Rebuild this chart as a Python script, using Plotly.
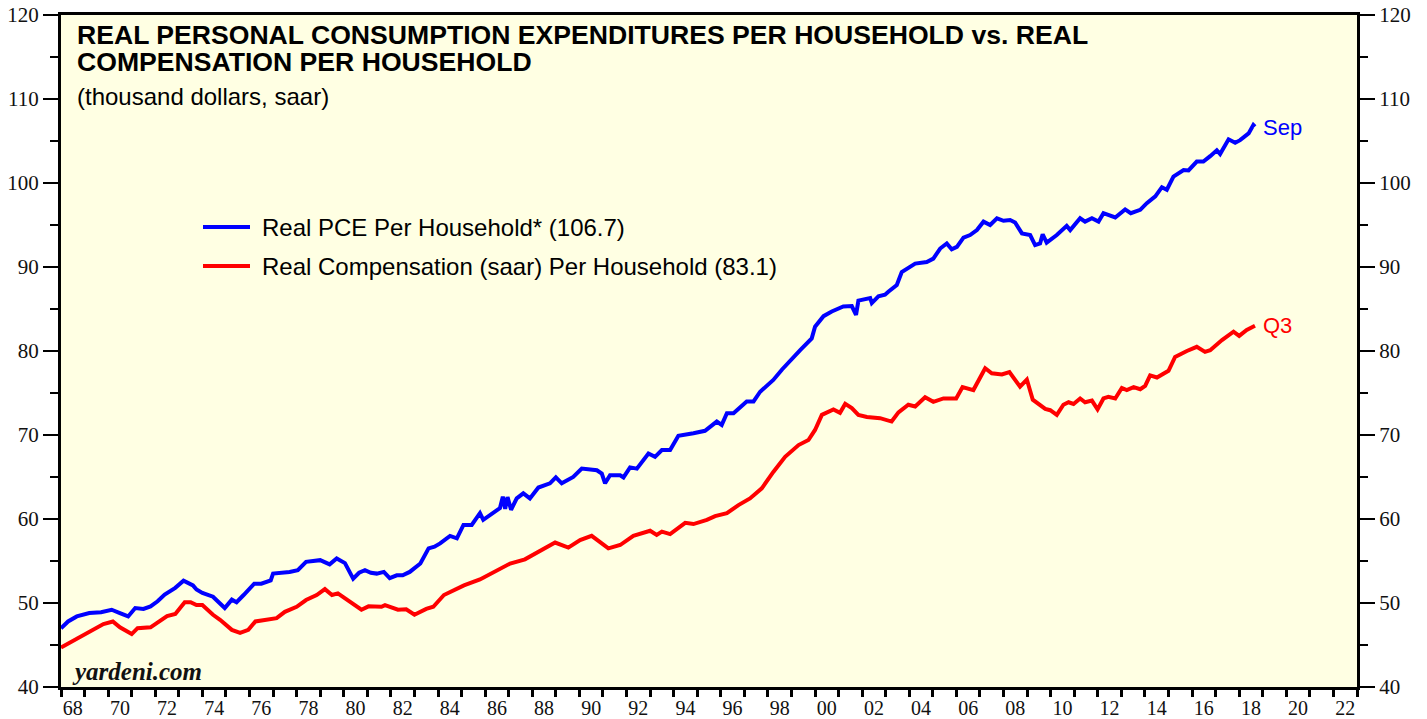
import plotly.graph_objects as go

# ---------------- data ----------------
pce_years = [1968.00, 1968.30, 1968.67, 1969.20, 1969.70, 1970.15, 1970.50, 1970.85, 1971.15, 1971.50,
             1971.80, 1972.10, 1972.40, 1972.85, 1973.20, 1973.60, 1973.75, 1974.00, 1974.45, 1974.95,
             1975.25, 1975.45, 1975.75, 1976.20, 1976.50, 1976.90, 1977.00, 1977.40, 1977.70, 1978.05,
             1978.40, 1978.70, 1979.00, 1979.40, 1979.70, 1980.05, 1980.40, 1980.65, 1980.90, 1981.15,
             1981.40, 1981.70, 1981.95, 1982.25, 1982.50, 1982.80, 1983.25, 1983.60, 1983.85, 1984.09,
             1984.51, 1984.80, 1985.08, 1985.43, 1985.78, 1985.92, 1986.20, 1986.63, 1986.75, 1986.85,
             1986.95, 1987.10, 1987.34, 1987.62, 1987.90, 1988.26, 1988.75, 1989.00, 1989.25, 1989.74,
             1990.10, 1990.74, 1990.95, 1991.09, 1991.30, 1991.73, 1991.87, 1992.15, 1992.44, 1992.93,
             1993.21, 1993.50, 1993.85, 1994.20, 1994.84, 1995.33, 1995.83, 1996.04, 1996.26, 1996.54,
             1997.10, 1997.39, 1997.67, 1998.23, 1998.60, 1998.95, 1999.37, 1999.86, 2000.00, 2000.36,
             2000.71, 2001.20, 2001.56, 2001.74, 2001.84, 2002.34, 2002.41, 2002.69, 2002.97, 2003.11,
             2003.47, 2003.68, 2004.25, 2004.74, 2005.02, 2005.31, 2005.59, 2005.80, 2006.02, 2006.30,
             2006.58, 2006.87, 2007.15, 2007.43, 2007.72, 2008.00, 2008.28, 2008.49, 2008.78, 2009.13,
             2009.34, 2009.55, 2009.66, 2009.83, 2010.26, 2010.68, 2010.83, 2011.25, 2011.46, 2011.75,
             2012.03, 2012.24, 2012.74, 2013.16, 2013.40, 2013.80, 2014.08, 2014.44, 2014.72, 2014.93,
             2015.21, 2015.64, 2015.85, 2016.20, 2016.48, 2016.77, 2017.05, 2017.19, 2017.55, 2017.83,
             2018.04, 2018.40, 2018.60, 2018.67]
pce_values = [47.0, 47.8, 48.4, 48.8, 48.9, 49.2, 48.8, 48.4, 49.4, 49.3,
              49.6, 50.2, 51.0, 51.8, 52.65, 52.1, 51.6, 51.2, 50.75, 49.4,
              50.4, 50.1, 50.95, 52.3, 52.3, 52.7, 53.5, 53.6, 53.7, 53.9,
              54.9, 55.0, 55.1, 54.6, 55.3, 54.75, 52.9, 53.6, 53.9, 53.6,
              53.5, 53.7, 52.95, 53.3, 53.3, 53.7, 54.7, 56.5, 56.7, 57.1,
              57.98, 57.7, 59.3, 59.3, 60.7, 59.9, 60.5, 61.3, 62.65, 61.2,
              62.6, 61.1, 62.45, 63.05, 62.45, 63.75, 64.25, 64.95, 64.25, 65.0,
              66.0, 65.8, 65.4, 64.25, 65.2, 65.2, 64.95, 66.15, 66.0, 67.8,
              67.4, 68.2, 68.2, 69.9, 70.2, 70.5, 71.6, 71.2, 72.6, 72.6,
              74.0, 74.0, 75.15, 76.55, 77.8, 78.9, 80.1, 81.5, 82.9, 84.15,
              84.7, 85.3, 85.35, 84.3, 86.0, 86.3, 85.7, 86.5, 86.7, 87.05,
              87.85, 89.4, 90.4, 90.6, 91.0, 92.2, 92.8, 92.1, 92.4, 93.5,
              93.8, 94.4, 95.4, 95.0, 95.8, 95.5, 95.6, 95.3, 94.0, 93.8,
              92.6, 92.8, 93.9, 92.9, 93.8, 94.9, 94.4, 95.8, 95.4, 95.8,
              95.4, 96.4, 95.9, 96.85, 96.4, 96.8, 97.6, 98.4, 99.5, 99.2,
              100.75, 101.55, 101.5, 102.55, 102.55, 103.2, 103.9, 103.45, 105.2, 104.8,
              105.1, 105.9, 106.9, 106.7]

comp_years = [1968.00, 1968.67, 1969.40, 1969.80, 1970.20, 1970.50, 1971.00, 1971.25, 1971.80, 1972.05,
              1972.50, 1972.85, 1973.25, 1973.50, 1973.75, 1974.00, 1974.45, 1974.75, 1975.25, 1975.60,
              1975.95, 1976.25, 1976.60, 1977.15, 1977.50, 1978.00, 1978.40, 1978.85, 1979.20, 1979.50,
              1979.75, 1980.25, 1980.75, 1981.05, 1981.60, 1981.75, 1982.30, 1982.65, 1983.00, 1983.50,
              1983.80, 1984.25, 1985.10, 1985.78, 1986.35, 1987.06, 1987.69, 1988.12, 1988.62, 1988.97,
              1989.53, 1990.03, 1990.52, 1991.23, 1991.73, 1992.29, 1993.00, 1993.28, 1993.50, 1993.85,
              1994.49, 1994.84, 1995.41, 1995.76, 1996.26, 1996.75, 1997.24, 1997.74, 1998.23, 1998.73,
              1999.30, 1999.72, 2000.00, 2000.29, 2000.78, 2001.06, 2001.28, 2001.56, 2001.84, 2002.20,
              2002.76, 2003.11, 2003.25, 2003.54, 2003.96, 2004.25, 2004.67, 2005.02, 2005.45, 2005.99,
              2006.26, 2006.72, 2007.22, 2007.50, 2007.93, 2008.25, 2008.70, 2008.99, 2009.24, 2009.77,
              2009.98, 2010.26, 2010.54, 2010.76, 2010.97, 2011.25, 2011.46, 2011.75, 2011.99, 2012.24,
              2012.45, 2012.74, 2013.02, 2013.23, 2013.52, 2013.80, 2014.01, 2014.22, 2014.51, 2015.00,
              2015.28, 2015.78, 2016.20, 2016.55, 2016.77, 2017.27, 2017.76, 2018.00, 2018.32, 2018.67]
comp_values = [44.7, 45.75, 46.8, 47.5, 47.8, 47.1, 46.3, 47.0, 47.1, 47.6,
               48.45, 48.7, 50.1, 50.1, 49.75, 49.75, 48.6, 48.0, 46.8, 46.45,
               46.8, 47.8, 48.0, 48.2, 48.95, 49.55, 50.35, 50.95, 51.65, 50.95,
               51.15, 50.15, 49.2, 49.6, 49.55, 49.75, 49.2, 49.25, 48.6, 49.3,
               49.55, 50.95, 52.1, 52.8, 53.7, 54.7, 55.2, 55.9, 56.6, 57.2,
               56.6, 57.5, 58.0, 56.5, 56.9, 58.0, 58.6, 58.1, 58.5, 58.2,
               59.55, 59.4, 59.9, 60.35, 60.7, 61.65, 62.45, 63.65, 65.6, 67.4,
               68.8, 69.4, 70.6, 72.4, 73.05, 72.65, 73.7, 73.2, 72.4, 72.15,
               72.0, 71.8, 71.6, 72.7, 73.6, 73.4, 74.5, 73.95, 74.35, 74.35,
               75.7, 75.35, 77.95, 77.35, 77.2, 77.5, 75.75, 76.6, 74.2, 73.1,
               72.95, 72.4, 73.6, 73.9, 73.7, 74.35, 73.9, 74.1, 73.05, 74.35,
               74.55, 74.35, 75.6, 75.35, 75.7, 75.45, 75.85, 77.1, 76.85, 77.65,
               79.3, 80.0, 80.5, 79.9, 80.1, 81.3, 82.3, 81.8, 82.5, 83.0]

year_tick_labels = ["68", "70", "72", "74", "76", "78", "80", "82", "84", "86", "88", "90", "92", "94",
                    "96", "98", "00", "02", "04", "06", "08", "10", "12", "14", "16", "18", "20", "22"]
label_years = [1968 + 2 * i for i in range(len(year_tick_labels))]

pce_name = "Real PCE Per Household* (106.7)"
comp_name = "Real Compensation (saar) Per Household (83.1)"

# ---------------- figure ----------------
# the page body has an 8px margin, so the figure sits at (8, 8) in the window
OFF = 8
W, H = 1427 - OFF, 719 - OFF
ML, MT = 61 - OFF, 15 - OFF
MR = W - (1357 - OFF)
MB = H - (687 - OFF)
PW, PH = W - ML - MR, H - MT - MB

def px(x):
    return (x - OFF - ML) / PW

def py(y):
    return (H - MB - (y - OFF)) / PH

BLUE = "#0000FF"
RED = "#FF0000"
serif = "Liberation Serif, Times New Roman, serif"
sans = "Liberation Sans, Arial, Helvetica, sans-serif"

fig = go.Figure()
fig.add_trace(go.Scatter(x=pce_years, y=pce_values, mode="lines", name=pce_name,
                         line=dict(color=BLUE, width=4), showlegend=False, yaxis="y"))
fig.add_trace(go.Scatter(x=comp_years, y=comp_values, mode="lines", name=comp_name,
                         line=dict(color=RED, width=4), showlegend=False, yaxis="y2"))

yaxis_common = dict(
    range=[40, 120], tickmode="linear", tick0=40, dtick=10,
    ticks="outside", ticklen=15, tickwidth=2, tickcolor="black",
    showgrid=False, zeroline=False, automargin=False, ticklabeloverflow="allow",
    showline=True, linewidth=3, linecolor="black",
    tickfont=dict(family=serif, size=21, color="#111"),
    minor=dict(tickmode="linear", tick0=40, dtick=5, ticks="outside", ticklen=8,
               tickwidth=2, tickcolor="black", showgrid=False),
    fixedrange=True,
)

fig.update_layout(
    width=W, height=H,
    margin=dict(l=ML, r=MR, t=MT, b=MB, autoexpand=False),
    paper_bgcolor="white",
    plot_bgcolor="#FFFFE3",
    xaxis=dict(
        range=[1968, 2023],
        tickmode="array",
        tickvals=[y + 0.5 for y in label_years],
        ticktext=year_tick_labels,
        ticks="outside", ticklen=1, tickcolor="rgba(0,0,0,0)",
        tickfont=dict(family=serif, size=20, color="#111"),
        showgrid=False, zeroline=False, automargin=False, ticklabeloverflow="allow",
        showline=True, linewidth=3, linecolor="black", mirror=True,
        minor=dict(tickmode="linear", tick0=1968, dtick=1, ticks="outside", ticklen=7,
                   tickwidth=2.5, tickcolor="black", showgrid=False),
    ),
    yaxis=dict(side="left", **yaxis_common),
    yaxis2=dict(side="right", overlaying="y", **yaxis_common),
    showlegend=False,
)

annotations = [
    dict(text="<b>REAL PERSONAL CONSUMPTION EXPENDITURES PER HOUSEHOLD vs. REAL</b>",
         x=px(75), y=py(35), xanchor="left", yanchor="middle",
         font=dict(family=sans, size=26.6, color="black")),
    dict(text="<b>COMPENSATION PER HOUSEHOLD</b>",
         x=px(75), y=py(62), xanchor="left", yanchor="middle",
         font=dict(family=sans, size=26.6, color="black")),
    dict(text="(thousand dollars, saar)",
         x=px(75), y=py(96), xanchor="left", yanchor="middle",
         font=dict(family=sans, size=24, color="black")),
    dict(text=pce_name, x=px(260), y=py(227), xanchor="left", yanchor="middle",
         font=dict(family=sans, size=24, color="black")),
    dict(text=comp_name, x=px(260), y=py(266), xanchor="left", yanchor="middle",
         font=dict(family=sans, size=24, color="black")),
    dict(text="Sep", x=px(1261), y=py(128), xanchor="left", yanchor="middle",
         font=dict(family=sans, size=22, color=BLUE)),
    dict(text="Q3", x=px(1261), y=py(325), xanchor="left", yanchor="middle",
         font=dict(family=sans, size=22, color=RED)),
    dict(text="<b><i>yardeni.com</i></b>", x=px(70), y=py(671), xanchor="left", yanchor="middle",
         font=dict(family=serif, size=25, color="#111")),
]
for a in annotations:
    a.update(xref="paper", yref="paper", showarrow=False)
fig.update_layout(annotations=annotations)

fig.update_layout(shapes=[
    dict(type="line", xref="paper", yref="paper", x0=px(203), x1=px(250), y0=py(227), y1=py(227),
         line=dict(color=BLUE, width=4)),
    dict(type="line", xref="paper", yref="paper", x0=px(203), x1=px(250), y0=py(266), y1=py(266),
         line=dict(color=RED, width=4)),
])

fig.write_html("out.html")
